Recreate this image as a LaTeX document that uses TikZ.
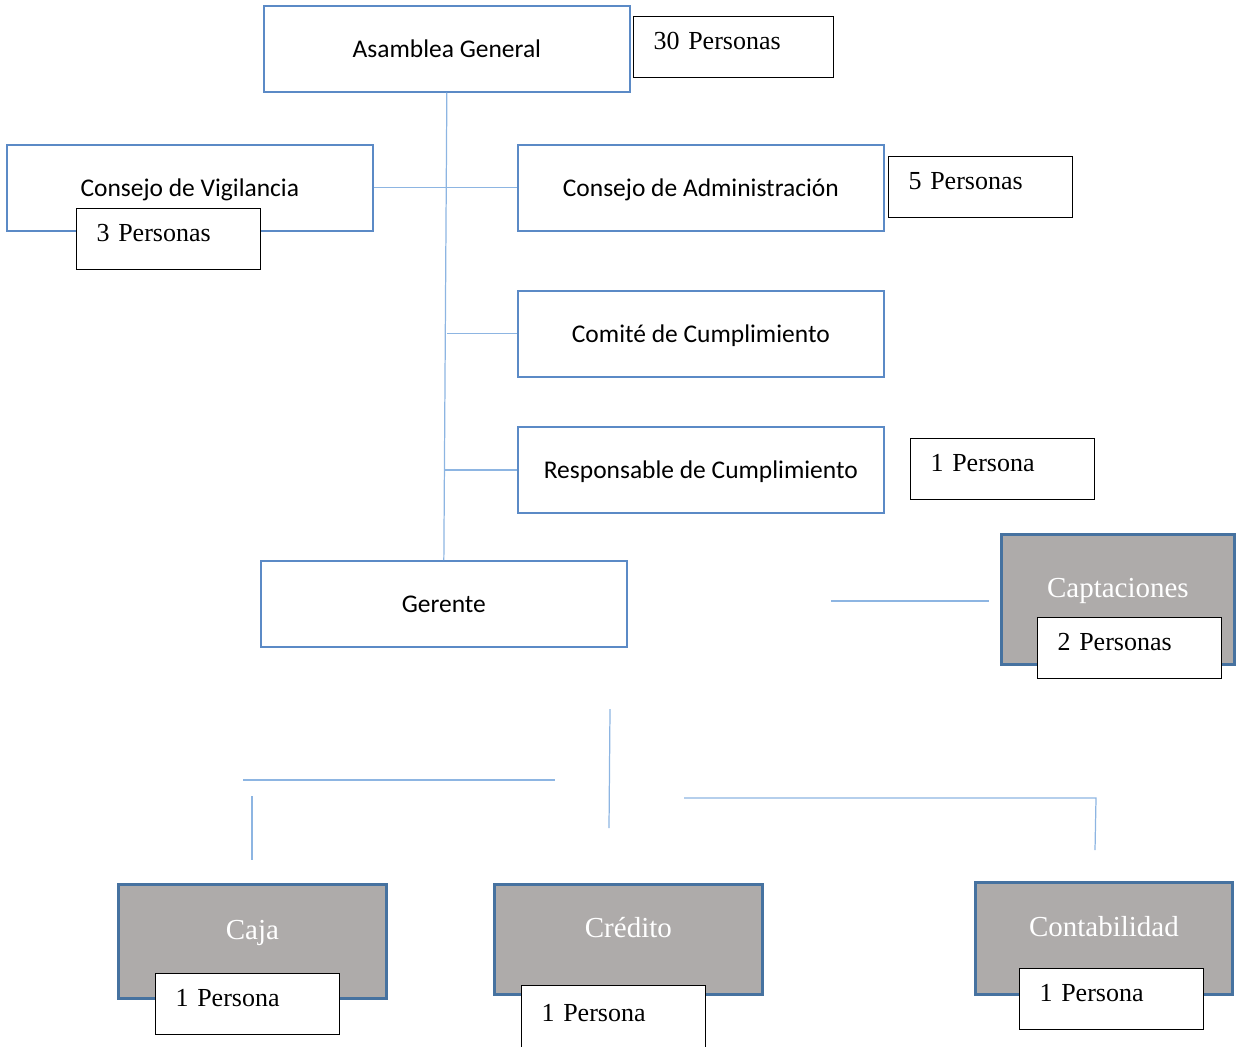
\documentclass[tikz,border=0pt]{standalone}
\usepackage{fontspec}
\setmainfont{Liberation Serif}
\newfontfamily\orgfont{Carlito}
\definecolor{organblue}{HTML}{5B8AC6}
\definecolor{linkblue}{HTML}{8DB5E2}
\definecolor{unitgray}{HTML}{AEABAA}
\definecolor{unitblue}{HTML}{4672A0}
\tikzset{
  organ/.style={draw=organblue, line width=1pt, fill=white,
    minimum width=7.32cm, minimum height=1.72cm, inner sep=0pt,
    text height=0.34cm, text depth=0pt,
    font=\orgfont\fontsize{14.5}{17}\selectfont},
  unit/.style={draw=unitblue, line width=1.6pt, fill=unitgray,
    text=white, inner sep=0pt, text height=0.32cm, text depth=0.4cm,
    font=\fontsize{16.5}{20}\selectfont},
  count/.style={draw=black, line width=0.7pt, fill=white,
    minimum height=1.22cm, inner xsep=0.4cm, inner ysep=0pt,
    text width=2.88cm, align=left, text height=0.5cm, text depth=0.4cm,
    font=\fontsize{14.8}{17}\selectfont},
  link/.style={draw=linkblue, line width=0.7pt}
}
\begin{document}
\begin{tikzpicture}[x=0.02cm, y=-0.02cm]
         \useasboundingbox (0,0) rectangle (1236,1046);
         \node[organ, anchor=north west] (asamblea) at (263,5) {Asamblea General};
         \node[organ, anchor=north west] (vigilancia) at (6,144) {Consejo de Vigilancia};
         \node[organ, anchor=north west] (admin) at (517,144) {Consejo de Administración};
         \node[organ, anchor=north west] (comite) at (517,290) {Comité de Cumplimiento};
         \node[organ, anchor=north west] (responsable) at (517,426) {Responsable de Cumplimiento};
         \node[organ, anchor=north west] (gerente) at (260,560) {Gerente};
         \node[unit, anchor=north west, minimum width=4.66cm, minimum height=2.6cm]
         (captaciones) at (1000,533) {Captaciones};
         \node[unit, anchor=north west, minimum width=5.36cm, minimum height=2.28cm]
         (caja) at (117,883) {Caja};
         \node[unit, anchor=north west, minimum width=5.36cm, minimum height=2.2cm]
         (credito) at (493,883) {Crédito};
         \node[unit, anchor=north west, minimum width=5.14cm, minimum height=2.24cm]
         (contabilidad) at (974,881) {Contabilidad};

         \draw[link] (asamblea.south) -- (gerente.north);
         \draw[link] (vigilancia.east) -- (admin.west);
         \coordinate (tcomite) at (asamblea.south |- comite.west);
         \coordinate (tresp) at (gerente.north |- responsable.west);
         \draw[link] (tcomite) -- (comite.west);
         \draw[link] (tresp) -- (responsable.west);
         \coordinate (capa) at (831,601);
         \coordinate (capb) at (989,601);
         \draw[link] (capa) -- (capb);
         \coordinate (bara) at (243,780);
         \coordinate (barb) at (555,780);
         \draw[link] (bara) -- (barb);
         \coordinate (cajaa) at (252,796);
         \coordinate (cajab) at (252,860);
         \draw[link] (cajaa) -- (cajab);
         \coordinate (mida) at (610,709);
         \coordinate (midb) at (609,828);
         \draw[link] (mida) -- (midb);
         \coordinate (conta) at (684,798);
         \coordinate (contb) at (1096,798);
         \coordinate (contc) at (1095,850);
         \draw[link] (conta) -- (contb) -- (contc);

         \node[count, anchor=north west, text width=3.2cm] (n30) at (633,16) {30 Personas};
         \node[count, anchor=north west] (nvig) at (76,208) {3 Personas};
         \node[count, anchor=north west] (nadm) at (888,156) {5 Personas};
         \node[count, anchor=north west] (nresp) at (910,438) {1 Persona};
         \node[count, anchor=north west] (ncap) at (1037,617) {2 Personas};
         \node[count, anchor=north west] (ncaja) at (155,973) {1 Persona};
         \node[count, anchor=north west, minimum height=1.32cm] (ncred) at (521,985) {1 Persona};
         \node[count, anchor=north west] (ncont) at (1019,968) {1 Persona};
       \end{tikzpicture}
\end{document}
